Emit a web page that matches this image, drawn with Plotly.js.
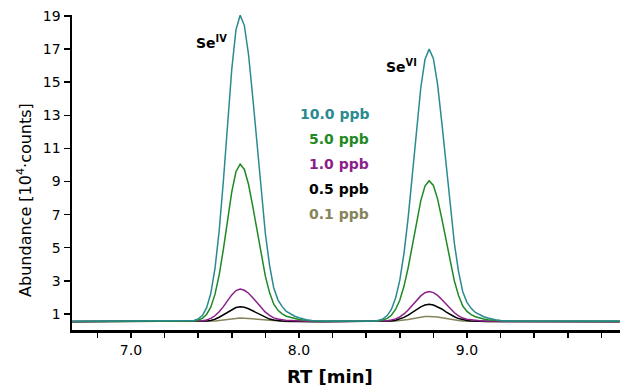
<!DOCTYPE html>
<html><head><meta charset="utf-8">
<script src="https://cdn.plot.ly/plotly-3.0.1.min.js"></script>
<style>html,body{margin:0;padding:0;background:#fff}#chart{width:628px;height:389px}</style>
</head><body><div id="chart"></div>
<script>
// Retention time [min]
const rtMin = [6.65, 6.8, 7.0, 7.2, 7.3,
  7.35, 7.375, 7.4, 7.425, 7.45, 7.475, 7.5, 7.525, 7.55, 7.575, 7.6, 7.625, 7.65, 7.675, 7.7, 7.725, 7.75, 7.775, 7.8, 7.825, 7.85, 7.875, 7.9, 7.925, 7.95, 7.975, 8.0, 8.025, 8.05, 8.075, 8.1,
  8.15, 8.25, 8.35, 8.45,
  8.475, 8.5, 8.525, 8.55, 8.575, 8.6, 8.625, 8.65, 8.675, 8.7, 8.725, 8.75, 8.775, 8.8, 8.825, 8.85, 8.875, 8.9, 8.925, 8.95, 8.975, 9.0, 9.025, 9.05, 9.075, 9.1, 9.125, 9.15, 9.175, 9.2, 9.225,
  9.3, 9.45, 9.6, 9.75, 9.91];

// Abundance [10^4 counts]
const abund10ppb = [0.56, 0.57, 0.55, 0.57, 0.56,
  0.57, 0.61, 0.70, 0.90, 1.36, 2.23, 3.73, 6.01, 9.02, 12.46, 15.78, 18.16, 19.05, 18.42, 16.66, 14.09, 11.19, 8.34, 5.86, 3.94, 2.57, 1.85, 1.44, 1.16, 0.99, 0.86, 0.77, 0.70, 0.64, 0.61, 0.59,
  0.58, 0.57, 0.56, 0.58,
  0.62, 0.70, 0.90, 1.27, 1.95, 3.03, 4.65, 6.82, 9.42, 12.18, 14.65, 16.37, 17.00, 16.44, 14.88, 12.59, 10.01, 7.48, 5.27, 3.56, 2.34, 1.70, 1.34, 1.09, 0.94, 0.83, 0.75, 0.68, 0.63, 0.60, 0.58,
  0.57, 0.58, 0.57, 0.58, 0.57];
const abund5ppb = [0.55, 0.56, 0.56, 0.55, 0.56,
  0.56, 0.58, 0.63, 0.73, 0.97, 1.41, 2.18, 3.35, 4.90, 6.67, 8.37, 9.59, 10.05, 9.73, 8.82, 7.50, 6.01, 4.55, 3.28, 2.29, 1.59, 1.22, 1.01, 0.86, 0.78, 0.71, 0.66, 0.63, 0.60, 0.58, 0.57,
  0.56, 0.57, 0.55, 0.57,
  0.58, 0.63, 0.73, 0.92, 1.27, 1.83, 2.67, 3.79, 5.13, 6.56, 7.83, 8.73, 9.05, 8.76, 7.95, 6.77, 5.44, 4.13, 2.99, 2.11, 1.48, 1.15, 0.96, 0.83, 0.75, 0.69, 0.65, 0.62, 0.59, 0.58, 0.57,
  0.56, 0.57, 0.56, 0.57, 0.56];
const abund1ppb = [0.54, 0.55, 0.54, 0.55, 0.55,
  0.55, 0.56, 0.57, 0.59, 0.64, 0.73, 0.89, 1.13, 1.44, 1.81, 2.15, 2.41, 2.50, 2.43, 2.25, 1.98, 1.67, 1.37, 1.11, 0.91, 0.76, 0.69, 0.64, 0.61, 0.60, 0.58, 0.57, 0.57, 0.56, 0.56, 0.55,
  0.55, 0.54, 0.55, 0.55,
  0.56, 0.57, 0.59, 0.63, 0.70, 0.82, 1.00, 1.24, 1.52, 1.82, 2.09, 2.28, 2.35, 2.29, 2.12, 1.87, 1.59, 1.31, 1.07, 0.88, 0.75, 0.68, 0.64, 0.61, 0.59, 0.58, 0.57, 0.56, 0.56, 0.56, 0.55,
  0.55, 0.54, 0.55, 0.55, 0.54];
const abund05ppb = [0.53, 0.53, 0.54, 0.53, 0.53,
  0.53, 0.53, 0.54, 0.55, 0.57, 0.61, 0.68, 0.80, 0.94, 1.11, 1.27, 1.39, 1.43, 1.40, 1.31, 1.19, 1.05, 0.91, 0.79, 0.69, 0.63, 0.59, 0.57, 0.56, 0.55, 0.55, 0.54, 0.54, 0.53, 0.53, 0.53,
  0.53, 0.54, 0.53, 0.53,
  0.53, 0.54, 0.55, 0.58, 0.62, 0.69, 0.79, 0.93, 1.10, 1.27, 1.43, 1.54, 1.58, 1.54, 1.44, 1.30, 1.13, 0.97, 0.83, 0.72, 0.64, 0.60, 0.58, 0.56, 0.56, 0.55, 0.54, 0.54, 0.54, 0.53, 0.53,
  0.53, 0.54, 0.53, 0.53, 0.53];
const abund01ppb = [0.55, 0.55, 0.55, 0.55, 0.55,
  0.55, 0.55, 0.55, 0.55, 0.56, 0.57, 0.58, 0.61, 0.64, 0.68, 0.71, 0.74, 0.75, 0.74, 0.72, 0.70, 0.67, 0.63, 0.61, 0.59, 0.57, 0.56, 0.56, 0.55, 0.55, 0.55, 0.55, 0.55, 0.55, 0.55, 0.55,
  0.55, 0.55, 0.55, 0.55,
  0.55, 0.55, 0.56, 0.56, 0.58, 0.60, 0.62, 0.66, 0.71, 0.76, 0.81, 0.84, 0.85, 0.84, 0.81, 0.77, 0.72, 0.68, 0.64, 0.60, 0.58, 0.57, 0.56, 0.56, 0.56, 0.55, 0.55, 0.55, 0.55, 0.55, 0.55,
  0.55, 0.55, 0.55, 0.55, 0.55];

const concLabels = ['10.0 ppb', '5.0 ppb', '1.0 ppb', '0.5 ppb', '0.1 ppb'];
const speciesLabels = ['Se<sup>IV</sup>', 'Se<sup>VI</sup>'];
const xTitle = 'RT [min]';
const yTitle = 'Abundance [10<sup>4</sup>·counts]';
const yTickVals = [1, 3, 5, 7, 9, 11, 13, 15, 17, 19];

// styles
const seriesColors = ['#2a8a8e', '#1f8a24', '#8a1f8a', '#000000', '#86845a'];
const seriesData = [abund10ppb, abund5ppb, abund1ppb, abund05ppb, abund01ppb];
const FONT = 'DejaVu Sans';

const traces = [];
for (let i = seriesData.length - 1; i >= 0; i--) {
  traces.push({
    x: rtMin, y: seriesData[i], type: 'scatter', mode: 'lines',
    name: concLabels[i], line: {color: seriesColors[i], width: 1.5},
    showlegend: false, hoverinfo: 'skip'
  });
}

const annotations = [];
const legendY = [13.08, 11.57, 10.06, 8.55, 7.04];
for (let i = 0; i < concLabels.length; i++) {
  annotations.push({
    x: 8.43, y: legendY[i], xref: 'x', yref: 'y', xanchor: 'right', yanchor: 'middle',
    text: '<b>' + concLabels[i] + '</b>', showarrow: false,
    font: {family: FONT, size: 14, color: seriesColors[i]}
  });
}
const speciesPos = [[7.48, 17.4], [8.61, 16.0]];
speciesLabels.forEach((t, i) => annotations.push({
  x: speciesPos[i][0], y: speciesPos[i][1], xref: 'x', yref: 'y', xanchor: 'center', yanchor: 'middle',
  text: '<b>' + t + '</b>', showarrow: false,
  font: {family: FONT, size: 14, color: '#000'}
}));
// axis titles (placed as in the reference, off-centre)
annotations.push({
  x: 0.471, y: -0.149, xref: 'paper', yref: 'paper', xanchor: 'center', yanchor: 'middle',
  text: '<b>' + xTitle + '</b>', showarrow: false,
  font: {family: FONT, size: 18, color: '#000'}
});
annotations.push({
  x: -0.0858, y: 0.413, xref: 'paper', yref: 'paper', xanchor: 'center', yanchor: 'middle',
  text: yTitle, textangle: -90, showarrow: false,
  font: {family: FONT, size: 16, color: '#000'}
});

const layout = {
  width: 628, height: 389,
  margin: {l: 72, r: 8, t: 15, b: 59, pad: 0},
  paper_bgcolor: '#fff', plot_bgcolor: '#fff',
  font: {family: FONT, size: 14, color: '#000'},
  xaxis: {
    range: [6.649, 9.911], tickmode: 'linear', tick0: 7, dtick: 1, tickformat: '.1f',
    showgrid: false, zeroline: false, showline: true, linecolor: '#000', linewidth: 2.5,
    ticks: 'outside', ticklen: 5, tickwidth: 1.5, tickcolor: '#000', ticklabelstandoff: 1,
    tickfont: {family: FONT, size: 14, color: '#000'},
    minor: {tickmode: 'linear', tick0: 7, dtick: 0.2, ticks: 'outside', ticklen: 5, tickwidth: 1.5, tickcolor: '#000', showgrid: false}
  },
  yaxis: {
    range: [0.03, 19.06], tickmode: 'array', tickvals: yTickVals,
    showgrid: false, zeroline: false, showline: true, linecolor: '#000', linewidth: 2.5,
    ticks: 'outside', ticklen: 6, tickwidth: 1.5, tickcolor: '#000',
    tickfont: {family: FONT, size: 14, color: '#000'}
  },
  annotations: annotations
};

Plotly.newPlot('chart', traces, layout, {staticPlot: true, displayModeBar: false});
</script>
</body></html>
